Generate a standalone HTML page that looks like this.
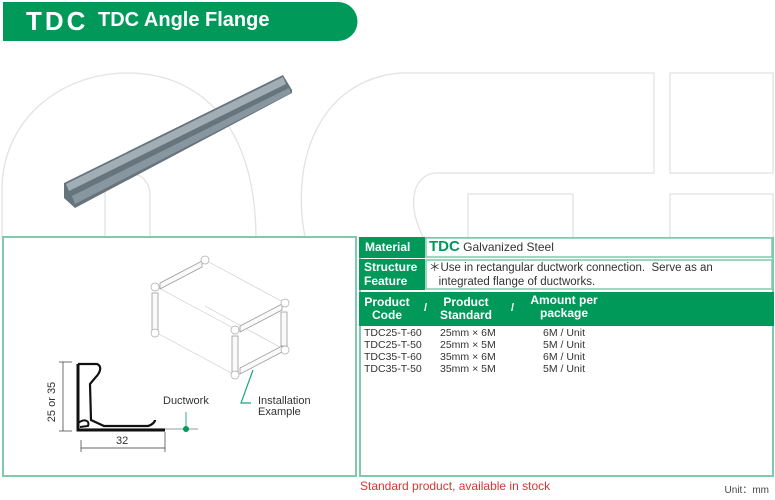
<!DOCTYPE html>
<html><head><meta charset="utf-8"><style>
body{margin:0;width:775px;height:500px;position:relative;background:#fff;font-family:"Liberation Sans",sans-serif;overflow:hidden}
.a{position:absolute}
</style></head><body>
<svg class="a" style="left:0;top:0" width="775" height="500">
<g fill="none" stroke="#e2e2e2" stroke-width="1.3">
<path d="M2,237 L2,190 C2,120 60,73 128,73 C196,73 255,120 256,237"/>
<path d="M105,237 L105,195 C105,180 115,173 128,173 C142,173 150,183 150,195 L150,237"/>
<path d="M305,237 C290,160 320,80 400,73 L654,73 L654,173 L435,173 C415,175 405,200 423,237"/>
<path d="M670,73 L773,73 L773,173 L670,173 Z"/>
<path d="M468,237 L468,194 L573,194 L573,237"/>
<path d="M670,237 L670,194 L773,194 L773,237"/>
</g>
<path d="M3,2 L338,2 A19.5,19.5 0 0 1 338,41 L3,41 Z" fill="#00995a"/>
<!-- angle bar -->
<polygon points="64,183 283,75 292,90 292,93 75,208 64,198" fill="#66747e"/>
<polygon points="66,184 283,77 286,84 69,191" fill="#a1aeb6"/>
<polygon points="72,196 289,88 291,93 75,204" fill="#8896a0"/>
<rect x="3" y="237" width="353" height="239" fill="none" stroke="#7fcaaa" stroke-width="2"/>
<rect x="360" y="238" width="413" height="238" fill="#fff" stroke="#7fcaaa" stroke-width="2"/>
<rect x="359" y="237" width="66" height="21" fill="#00995a"/>
<rect x="426" y="238" width="346" height="19" fill="#fff" stroke="#7fcaaa" stroke-width="1.5"/>
<rect x="359" y="259" width="66" height="31" fill="#00995a"/>
<rect x="426" y="260" width="346" height="29" fill="#fff" stroke="#7fcaaa" stroke-width="1.5"/>
<rect x="359" y="292" width="415" height="34" fill="#00995a"/>
<!-- duct -->
<g fill="none" stroke="#ccc" stroke-width="0.7">
<line x1="157" y1="287" x2="237" y2="330"/><line x1="205" y1="260" x2="285" y2="303"/>
<line x1="157" y1="333" x2="237" y2="376"/><line x1="205" y1="306" x2="285" y2="350"/>
</g>
<g fill="#fafafa" stroke="#999" stroke-width="0.8">
<polygon points="160,283 202,261 202,267 160,289"/>
<polygon points="152,293 158,293 158,333 152,333"/>
<polygon points="240,326 282,304 282,310 240,332"/>
<polygon points="232,336 238,336 238,372 232,372"/>
<polygon points="281,312 287,312 287,346 281,346"/>
<polygon points="240,368 282,346 282,352 240,374"/>
</g>
<g fill="#fff" stroke="#aaa" stroke-width="0.7">
<circle cx="155" cy="287" r="4"/><circle cx="205" cy="260" r="4"/><circle cx="155" cy="333" r="4"/>
<circle cx="235" cy="330" r="4"/><circle cx="285" cy="303" r="4"/><circle cx="235" cy="375" r="4"/><circle cx="285" cy="350" r="4"/>
</g>
<polyline points="253,370 241,403 251,403" fill="none" stroke="#1aa77a" stroke-width="1.2"/>
<!-- profile -->
<line x1="85" y1="429" x2="198" y2="429" stroke="#bbb" stroke-width="1.5"/>
<path d="M78,364 L78,430 L165,430" fill="none" stroke="#111" stroke-width="3"/>
<path d="M78,364 L97,364 C102,366 101,372 95,378 L90,384 L91,420 L104,426 L148,426 C152,425 155,422 155,420" fill="none" stroke="#111" stroke-width="2.2"/>
<path d="M78,423 C85,418 90,421 88,426 L80,427" fill="none" stroke="#111" stroke-width="2"/>
<circle cx="186" cy="429" r="3" fill="#00995a"/>
<line x1="186" y1="429" x2="186" y2="412" stroke="#00995a" stroke-width="0.8"/>
<g stroke="#333" stroke-width="0.7">
<line x1="63" y1="362" x2="63" y2="431"/><line x1="59" y1="362" x2="72" y2="362"/><line x1="59" y1="431" x2="72" y2="431"/>
<line x1="81" y1="448" x2="165" y2="448"/><line x1="81" y1="440" x2="81" y2="452"/><line x1="165" y1="432" x2="165" y2="452"/>
</g>
</svg>
<div class="a" style="left:26px;top:6px;color:#fff;font-weight:bold;font-size:26px;letter-spacing:3px">TDC</div>
<div class="a" style="left:98px;top:9px;color:#fff;font-weight:bold;font-size:20px">TDC Angle Flange</div>
<div class="a" style="left:22px;top:396px;transform:rotate(-90deg);transform-origin:center;font-size:11px;color:#333;width:60px;text-align:center;line-height:12px;">25 or 35</div>
<div class="a" style="left:116px;top:435px;font-size:11px;color:#333">32</div>
<div class="a" style="left:163px;top:395px;font-size:11px;color:#333">Ductwork</div>
<div class="a" style="left:258px;top:396px;font-size:11px;color:#333;line-height:11px">Installation<br>Example</div>
<div class="a" style="left:365px;top:240px;color:#fff;font-weight:bold;font-size:12px">Material</div>
<div class="a" style="left:429px;top:238px;font-size:12px;color:#333"><b style="color:#00995a;font-size:15px">TDC</b> Galvanized Steel</div>
<div class="a" style="left:364px;top:260px;color:#fff;font-weight:bold;font-size:12px;line-height:14px">Structure<br>Feature</div>
<div class="a" style="left:429px;top:261px;font-size:11.5px;color:#333;line-height:14px">＊Use in rectangular ductwork connection.&nbsp; Serve as an<br>&nbsp;&nbsp;&nbsp;integrated flange of ductworks.</div>
<div class="a" style="left:361px;top:296px;width:52px;text-align:center;color:#fff;font-weight:bold;font-size:12px;line-height:13px">Product<br>Code</div>
<div class="a" style="left:424px;top:302px;color:#fff;font-weight:bold;font-size:11px">/</div>
<div class="a" style="left:436px;top:296px;width:60px;text-align:center;color:#fff;font-weight:bold;font-size:12px;line-height:13px">Product<br>Standard</div>
<div class="a" style="left:511px;top:302px;color:#fff;font-weight:bold;font-size:11px">/</div>
<div class="a" style="left:526px;top:294px;width:76px;text-align:center;color:#fff;font-weight:bold;font-size:12px;line-height:13px">Amount per<br>package</div>
<div class="a" style="left:364px;top:327px;font-size:10.5px;color:#333;line-height:12px">TDC25-T-60<br>TDC25-T-50<br>TDC35-T-60<br>TDC35-T-50</div>
<div class="a" style="left:440px;top:327px;font-size:10.5px;color:#333;line-height:12px">25mm × 6M<br>25mm × 5M<br>35mm × 6M<br>35mm × 5M</div>
<div class="a" style="left:543px;top:327px;font-size:10.5px;color:#333;line-height:12px">6M / Unit<br>5M / Unit<br>6M / Unit<br>5M / Unit</div>
<div class="a" style="left:360px;top:479px;font-size:12px;color:#d33">Standard product, available in stock</div>
<div class="a" style="right:6px;top:481px;font-size:10px;color:#444">Unit：mm</div>
</body></html>
